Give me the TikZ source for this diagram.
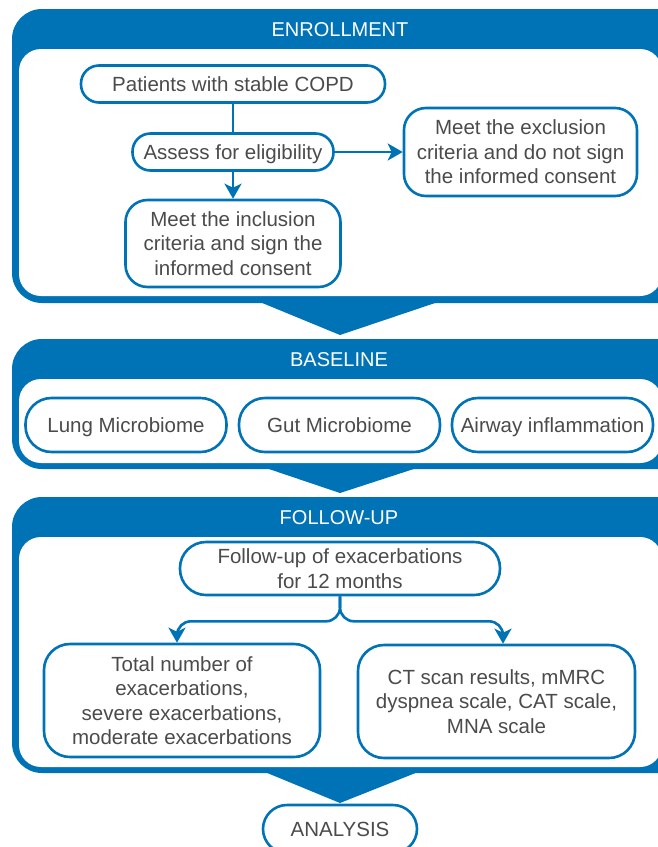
\documentclass[tikz,border=0pt]{standalone}
\usepackage{fontspec}
\setmainfont{Liberation Sans}
\usetikzlibrary{arrows.meta}
\definecolor{cblue}{RGB}{0,114,182}
\definecolor{ctext}{RGB}{75,75,75}
\begin{document}
\begin{tikzpicture}[x=1pt,y=-1pt,
  box/.style={draw=cblue, line width=2.6pt, fill=white, rectangle, align=center, inner sep=0pt, text=ctext, font=\fontsize{20.5}{24.5}\selectfont},
  single/.style={text height=17pt, text depth=3pt},
  pill/.style={box, single, rounded corners=18pt},
  rbox/.style={box, rounded corners=22pt},
  bigbox/.style={box, rounded corners=26pt},
  head/.style={text=white, font=\fontsize{20}{23}\selectfont, inner sep=0pt, text height=17pt, text depth=3pt},
  conn/.style={draw=cblue, line width=2.6pt},
  arr/.style={conn, -{Stealth[length=15pt,width=17pt,inset=4pt]}},
  chev/.style={fill=cblue, draw=none},
  frameout/.style={fill=cblue, rounded corners=30pt},
  framein/.style={fill=white, rounded corners=22pt},
]
\useasboundingbox (0,0) rectangle (657,847);

% ENROLLMENT section
\fill[frameout] (12,9) rectangle (700,303);
\fill[framein] (19,49) rectangle (662,296);
\fill[chev] (255,300) -- (444,300) -- (340,335) -- cycle;
\node[head] (h1) at (340,29) {ENROLLMENT};

% BASELINE section
\fill[frameout] (12,339) rectangle (700,469);
\fill[framein] (19,379) rectangle (662,463);
\fill[chev] (260,466) -- (423,466) -- (340,493) -- cycle;
\node[head] (h2) at (339,359) {BASELINE};

% FOLLOW-UP section
\fill[frameout] (12,497) rectangle (700,773);
\fill[framein] (19,537) rectangle (662,767);
\fill[chev] (260,770) -- (423,770) -- (340,803) -- cycle;
\node[head] (h3) at (339,517) {FOLLOW-UP};

% Enrollment nodes
\node[pill, minimum width=304pt, minimum height=37pt] (copd) at (233,84) {Patients with stable COPD};
\node[pill, minimum width=201pt, minimum height=37pt] (assess) at (233,152) {Assess for eligibility};
\node[rbox, minimum width=233pt, minimum height=88pt] (excl) at (520.5,152) {Meet the exclusion\\criteria and do not sign\\the informed consent};
\node[rbox, minimum width=215pt, minimum height=87pt] (incl) at (233,243.5) {Meet the inclusion\\criteria and sign the\\informed consent};

\draw[conn] (copd.south) -- (assess.north);
\draw[arr] (assess.south) -- (incl.north);
\draw[arr] (assess.east) -- (excl.west);

% Baseline nodes
\node[bigbox, single, minimum width=201pt, minimum height=54pt] (lung) at (126,425) {Lung Microbiome};
\node[bigbox, single, minimum width=201pt, minimum height=54pt] (gut) at (339.5,425) {Gut Microbiome};
\node[bigbox, single, minimum width=201pt, minimum height=54pt] (airway) at (552.5,425) {Airway inflammation};

% Follow-up nodes
\node[bigbox, minimum width=320pt, minimum height=53pt] (fu) at (340,568.5) {Follow-up of exacerbations\\for 12 months};
\node[bigbox, minimum width=276pt, minimum height=113pt] (tl) at (182,700.5) {Total number of\\exacerbations,\\severe exacerbations,\\moderate exacerbations};
\node[bigbox, minimum width=277pt, minimum height=113pt] (tr) at (496.5,701.5) {CT scan results, mMRC\\dyspnea scale, CAT scale,\\MNA scale};

\draw[arr, rounded corners=14pt] (fu.south) -- ++(0,25) -| ([xshift=-5pt]tl.north);
\draw[arr, rounded corners=14pt] (fu.south) -- ++(0,25) -| ([xshift=6.5pt]tr.north);

% Analysis
\node[box, single, rounded corners=24pt, minimum width=154pt, minimum height=48pt] (anal) at (340,829) {ANALYSIS};
\end{tikzpicture}
\end{document}
